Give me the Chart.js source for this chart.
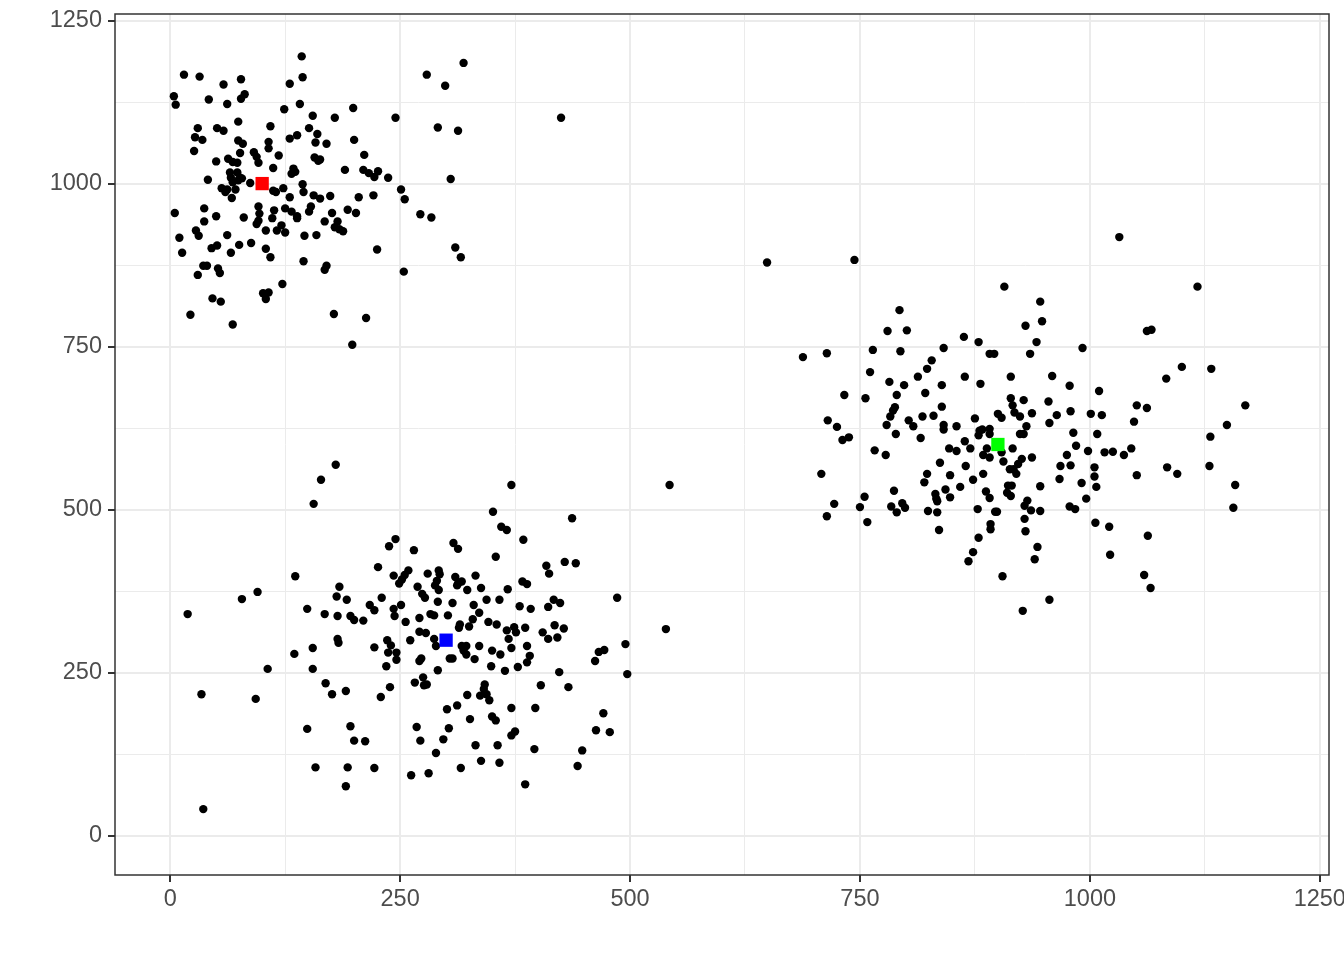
<!DOCTYPE html>
<html>
<head>
<meta charset="utf-8">
<script src="https://cdn.jsdelivr.net/npm/chart.js@4.4.1/dist/chart.umd.min.js"></script>
<style>
html, body { margin: 0; padding: 0; background: #ffffff; }
</style>
</head>
<body>
<canvas id="grafico" width="1344" height="960"></canvas>
<script>
// puntos, agrupados por cluster [x, y]
const cluster1 = [
  [143,1195],[15,1167],[32,1164],[58,1152],[77,1160],[144,1163],[130,1153],[4,1134],[6,1121],[42,1129],
  [62,1122],[77,1130],[81,1137],[124,1114],[141,1122],[155,1104],[74,1095],[30,1085],[51,1085],[58,1081],
  [109,1088],[151,1085],[27,1071],[35,1067],[74,1066],[79,1061],[130,1069],[138,1074],[160,1076],[158,1063],
  [26,1050],[76,1047],[107,1064],[107,1054],[91,1048],[94,1041],[96,1032],[118,1043],[157,1040],[161,1035],
  [50,1034],[63,1038],[68,1033],[73,1032],[112,1024],[134,1023],[132,1015],[136,1018],[41,1006],[65,1017],
  [73,1017],[66,1009],[76,1009],[68,1002],[74,1005],[78,1008],[87,1001],[56,993],[62,991],[60,987],
  [71,991],[112,989],[115,987],[123,993],[144,999],[145,987],[130,979],[156,982],[67,978],
  [319,1185],[279,1167],[299,1150],[199,1116],[179,1101],[245,1101],[291,1086],[313,1081],[170,1061],[200,1067],
  [211,1044],[163,1037],[190,1021],[210,1021],[216,1016],[222,1010],[226,1019],[237,1009],[305,1007],[251,991],
  [255,976],[174,981],[163,977],[205,979],[221,982],
  [5,955],[37,962],[37,942],[50,950],[80,948],[96,965],[97,954],[96,943],[94,938],[113,959],
  [111,947],[125,962],[132,957],[138,950],[138,947],[151,957],[153,965],[10,917],[28,928],[31,920],
  [62,921],[104,928],[116,928],[121,936],[125,925],[146,920],[159,921],[13,894],[45,901],[51,905],
  [66,894],[75,906],[88,909],[104,900],[109,887],[145,881],[36,874],[40,874],[52,870],[54,863],
  [30,860],[122,846],[101,832],[107,833],[104,823],[46,824],[55,819],[22,799],[68,784],
  [176,955],[193,960],[202,955],[272,953],[284,948],[168,942],[182,942],[179,933],[184,930],[188,927],
  [225,899],[310,902],[316,887],[170,874],[168,868],[254,865],[178,800],[213,794],[198,753],[425,1101]
];

const cluster2 = [
  [180,569],[164,546],[156,509],[245,455],[238,444],[265,438],[226,412],[259,407],[255,400],[252,393],
  [249,387],[243,399],[136,398],[95,374],[78,363],[19,340],[184,382],[181,367],[192,362],[149,348],
  [168,340],[182,337],[196,337],[200,331],[210,330],[217,354],[222,346],[230,365],[243,348],[244,337],
  [251,354],[256,328],[269,382],[274,371],[277,365],[271,334],[271,313],[182,302],[236,300],[261,300],
  [371,538],[543,538],[351,497],[437,487],[360,474],[366,469],[384,454],[308,449],[313,440],[354,428],
  [409,414],[412,402],[429,420],[441,418],[280,402],[292,407],[293,401],[290,391],[288,384],[292,377],
  [310,397],[313,387],[317,390],[312,384],[332,399],[323,377],[338,380],[367,378],[383,390],[388,386],
  [291,359],[307,357],[330,354],[344,362],[358,362],[380,352],[392,348],[417,362],[424,357],[411,351],
  [486,365],[539,317],[283,340],[287,338],[302,338],[336,342],[329,332],[325,321],[314,319],[315,324],
  [346,328],[355,324],[366,315],[374,320],[376,312],[386,319],[405,312],[418,323],[428,318],[278,311],
  [287,302],[368,302],[411,302],[421,304],[495,294],
  [34,217],[93,210],[106,256],[36,41],[135,279],[155,288],[155,256],[183,296],[169,234],[176,217],
  [191,222],[222,289],[240,292],[237,281],[246,281],[246,270],[235,260],[271,268],[273,272],[239,228],
  [229,213],[266,235],[275,243],[276,231],[196,168],[149,164],[200,146],[212,145],[268,167],[272,146],
  [158,105],[193,105],[222,104],[191,76],[262,93],
  [289,291],[317,291],[322,291],[319,284],[322,278],[336,291],[350,284],[359,278],[371,288],[388,291],
  [466,282],[472,285],[462,268],[497,248],[304,272],[307,272],[331,271],[391,276],[388,266],[349,260],
  [364,253],[378,259],[423,251],[291,254],[279,232],[342,232],[341,225],[344,217],[337,215],[347,208],
  [403,231],[433,228],[323,216],[312,200],[301,194],[371,196],[397,196],[326,179],[350,183],[354,177],
  [471,188],[463,162],[478,159],[303,165],[297,148],[375,160],[371,154],[332,139],[356,139],[396,133],
  [448,131],[289,127],[338,115],[358,112],[316,104],[281,96],[443,107],[386,79]
];

const cluster3 = [
  [649,879],[744,883],[907,842],[793,806],[780,774],[801,775],[863,765],[879,757],[891,739],[896,739],
  [688,734],[714,740],[764,745],[794,743],[841,748],[828,729],[823,716],[761,711],[813,704],[864,704],
  [881,693],[782,696],[798,691],[839,691],[821,679],[733,676],[756,671],[790,676],[839,658],[788,657],
  [786,652],[783,643],[818,643],[830,644],[875,640],[900,647],[904,641],[715,637],[803,637],
  [1032,918],[1117,842],[946,819],[930,782],[948,789],[1062,774],[1067,776],[942,757],[992,748],[935,739],
  [1100,719],[1132,716],[1083,701],[914,704],[959,705],[978,690],[1010,682],[914,671],[916,660],[928,668],
  [955,666],[918,649],[924,643],[937,648],[964,645],[979,651],[1001,647],[1013,645],[1051,660],[1062,656],
  [1169,660],
  [725,627],[731,607],[738,611],[766,591],[778,584],[779,630],[789,616],[808,628],[816,610],[841,630],
  [841,623],[855,628],[880,621],[879,614],[883,623],[891,624],[891,616],[864,605],[870,594],[847,594],
  [855,590],[888,594],[884,584],[891,580],[904,588],[906,574],[837,572],[865,567],[884,555],[823,555],
  [820,542],[848,553],[873,546],[708,555],[843,531],[848,519],[859,535],[787,529],[832,524],[833,517],
  [834,513],[887,528],[891,518],[755,520],[722,509],[750,504],[784,505],[790,496],[796,510],[799,503],
  [824,498],[834,496],[878,501],[897,497],[899,497],[714,490],[758,481],[892,478],[892,470],[836,469],
  [879,457],[873,435],[868,421],[905,398],
  [956,633],[1048,635],[1149,630],[931,628],[924,616],[928,616],[982,618],[1008,616],[1131,612],[916,594],
  [985,598],[998,590],[1016,588],[1025,589],[1037,584],[1045,594],[975,584],[926,578],[937,580],[922,570],
  [917,562],[920,555],[913,562],[968,567],[979,568],[1005,565],[1005,551],[967,547],[991,541],[1007,535],
  [1051,553],[1084,565],[1095,555],[1130,567],[1158,538],[1156,503],[946,536],[911,537],[915,537],[910,526],
  [914,521],[996,517],[932,514],[929,506],[936,499],[946,498],[978,505],[984,501],[929,486],[930,467],
  [1006,480],[1021,474],[1063,460],[943,443],[940,424],[1022,431],[1059,400],[1066,380],[956,362],[927,345]
];

// centroides
const centroX = [100, 900, 300];
const centroY = [1000, 600, 300];
const centroColor = ['#FF0000', '#00FF00', '#0000FF'];

// ejes
const ticksEje = [0, 250, 500, 750, 1000, 1250];
const ticksMenores = [125, 375, 625, 875, 1125];
const limites = [-60, 1260];

const todosTicks = ticksEje.concat(ticksMenores).sort((a, b) => a - b);
const esMenor = v => ticksMenores.includes(v);

function crearEscala(pos) {
  return {
    type: 'linear',
    position: pos,
    min: limites[0],
    max: limites[1],
    afterBuildTicks: s => { s.ticks = todosTicks.map(v => ({ value: v })); },
    afterFit: s => {
      if (pos === 'left') s.width = 115;
      else s.height = 85;
      // sin relleno extra por las etiquetas de los extremos
      s.paddingTop = 0; s.paddingBottom = 0;
      s.paddingLeft = 0; s.paddingRight = 0;
    },
    grid: {
      color: '#EBEBEB',
      lineWidth: c => (c.tick && esMenor(c.tick.value)) ? 1 : 2,
      drawTicks: true,
      tickLength: 7,
      tickWidth: 2,
      tickColor: c => (c.tick && esMenor(c.tick.value)) ? 'rgba(0,0,0,0)' : '#333333'
    },
    border: { display: false },
    ticks: {
      autoSkip: false,
      maxRotation: 0,
      padding: pos === 'left' ? 6 : 3,
      color: '#4D4D4D',
      font: { family: "'Liberation Sans', Arial, sans-serif", size: 23.5 },
      callback: v => ticksEje.includes(v) ? String(v) : ''
    }
  };
}

// borde del panel estilo theme_bw
const bordePanel = {
  id: 'bordePanel',
  afterDatasetsDraw(chart) {
    const { ctx, chartArea: a } = chart;
    ctx.save();
    ctx.strokeStyle = '#333333';
    ctx.lineWidth = 1.5;
    ctx.strokeRect(a.left, a.top, a.right - a.left, a.bottom - a.top);
    ctx.restore();
  }
};

const aPuntos = lista => lista.map(([x, y]) => ({ x, y }));

const ctx = document.getElementById('grafico').getContext('2d');
new Chart(ctx, {
  type: 'scatter',
  data: {
    datasets: [
      {
        label: 'centros',
        data: centroX.map((x, i) => ({ x, y: centroY[i] })),
        pointStyle: 'rect',
        pointRadius: 9.4,
        backgroundColor: centroColor,
        borderWidth: 0
      },
      { label: 'c1', data: aPuntos(cluster1), pointRadius: 4.2, backgroundColor: '#000000', borderWidth: 0 },
      { label: 'c2', data: aPuntos(cluster2), pointRadius: 4.2, backgroundColor: '#000000', borderWidth: 0 },
      { label: 'c3', data: aPuntos(cluster3), pointRadius: 4.2, backgroundColor: '#000000', borderWidth: 0 }
    ]
  },
  options: {
    responsive: false,
    animation: false,
    devicePixelRatio: 1,
    layout: { autoPadding: false, padding: { left: 0, right: 15, top: 14, bottom: 0 } },
    plugins: { legend: { display: false }, tooltip: { enabled: false } },
    scales: {
      x: crearEscala('bottom'),
      y: crearEscala('left')
    }
  },
  plugins: [bordePanel]
});
</script>
</body>
</html>
